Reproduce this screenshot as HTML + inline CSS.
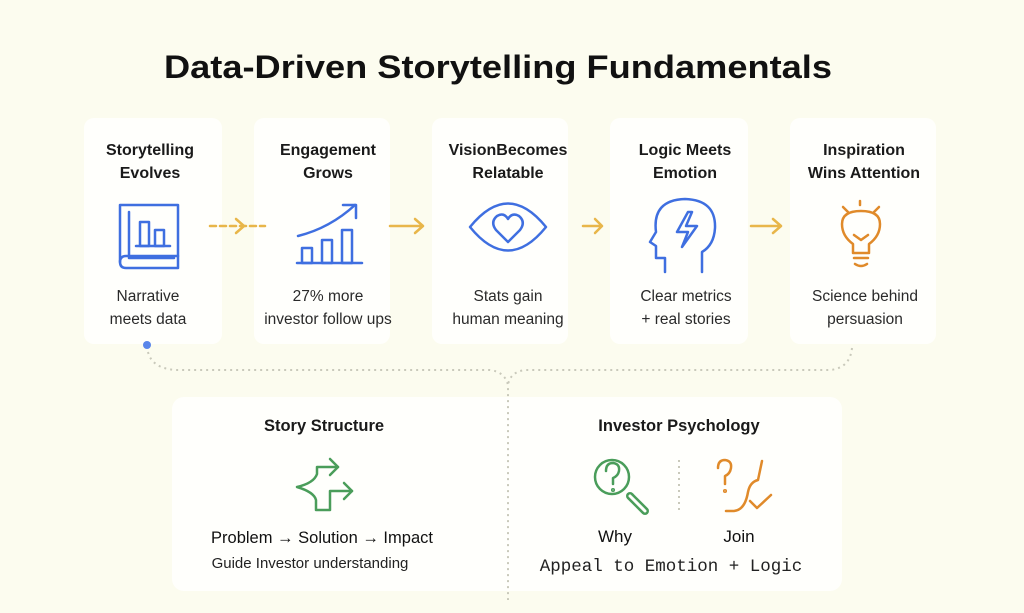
<!DOCTYPE html>
<html><head><meta charset="utf-8"><style>
html,body{margin:0;padding:0;background:#fcfcef;}
svg{display:block;font-family:"Liberation Sans",sans-serif;}
</style></head><body>
<svg width="1024" height="613" viewBox="0 0 1024 613" xmlns="http://www.w3.org/2000/svg">
<rect width="1024" height="613" fill="#fcfcef"/>
<text x="498" y="78" text-anchor="middle" font-size="32" font-weight="bold" fill="#111" textLength="668" lengthAdjust="spacingAndGlyphs">Data-Driven Storytelling Fundamentals</text>

<g fill="#fffffc">
<rect x="84" y="118" width="138" height="226" rx="10"/>
<rect x="254" y="118" width="136" height="226" rx="10"/>
<rect x="432" y="118" width="136" height="226" rx="10"/>
<rect x="610" y="118" width="138" height="226" rx="10"/>
<rect x="790" y="118" width="146" height="226" rx="10"/>
<rect x="172" y="397" width="670" height="194" rx="12"/>
</g>

<g font-size="16" font-weight="bold" fill="#1a1a1a" text-anchor="middle">
<text x="150" y="155">Storytelling</text><text x="150" y="178">Evolves</text>
<text x="328" y="155">Engagement</text><text x="328" y="178">Grows</text>
<text x="508" y="155">VisionBecomes</text><text x="508" y="178">Relatable</text>
<text x="685" y="155">Logic Meets</text><text x="685" y="178">Emotion</text>
<text x="864" y="155">Inspiration</text><text x="864" y="178">Wins Attention</text>
</g>
<g font-size="15.5" fill="#2a2a2a" text-anchor="middle">
<text x="148" y="301">Narrative</text><text x="148" y="324">meets data</text>
<text x="328" y="301">27% more</text><text x="328" y="324">investor follow ups</text>
<text x="508" y="301">Stats gain</text><text x="508" y="324">human meaning</text>
<text x="686" y="301">Clear metrics</text><text x="686" y="324">+ real stories</text>
<text x="865" y="301">Science behind</text><text x="865" y="324">persuasion</text>
</g>

<g fill="none" stroke="#3f6fe0" stroke-width="2.5" stroke-linejoin="round" stroke-linecap="round">
<path d="M120 205 V262 Q120 268 126 268 H178 V205 Z"/>
<path d="M129 212 V258 H174"/>
<path d="M120 262 Q120 256 126 256 H178"/>
<rect x="140" y="222" width="9" height="24"/><rect x="155" y="230" width="9" height="16"/>
<path d="M136 246 H170"/>
<path d="M297 263 H362"/>
<rect x="302" y="248" width="10" height="15"/><rect x="322" y="240" width="10" height="23"/><rect x="342" y="230" width="10" height="33"/>
<path d="M298 236 Q330 228 355 205"/><path d="M343 205 H356 V218"/>
<path d="M470 227 Q508 180 546 227 Q508 274 470 227 Z"/>
<path d="M508 242 L496 230 Q490 222 497 216 Q504 212 508 219 Q512 212 519 216 Q526 222 520 230 Z"/>
<path d="M665 272 V258 H656 V246 L650 242 L656 232 Q652 200 685 199 Q716 200 715 228 Q714 245 702 252 V272"/>
<path d="M688 212 L677 232 H688 L682 247 L697 226 H686 L692 212 Z"/>
</g>
<g fill="none" stroke="#e08a2a" stroke-width="2.5" stroke-linecap="round" stroke-linejoin="round">
<path d="M860 201 V205 M843 207 L848 212 M879 207 L874 212"/>
<path d="M853 253 V244 Q842 236 842 224 Q842 211 861 211 Q880 211 880 224 Q880 236 869 244 V253 Z"/>
<path d="M854 258 H868 M855 264 Q861 268 867 264"/>
<path d="M854 235 L861 240 L868 235"/>
</g>
<g fill="none" stroke="#e8b64a" stroke-width="2.5" stroke-linecap="round" stroke-linejoin="round">
<path d="M210 226 H265" stroke-dasharray="6 4"/><path d="M236 219 L244 226 L236 233"/>
<path d="M390 226 H423 M415 219 L423 226 L415 233"/>
<path d="M583 226 H602 M595 219 L602 226 L595 233"/>
<path d="M751 226 H781 M773 219 L781 226 L773 233"/>
</g>
<circle cx="147" cy="345" r="4" fill="#5a86ea"/>
<g fill="none" stroke="#c9c9bb" stroke-width="2" stroke-dasharray="2 4">
<path d="M148 352 Q152 368 175 370 H490 Q505 372 508 385 V600"/>
<path d="M852 348 Q850 368 830 370 H525 Q510 372 508 385"/>
<path d="M679 460 V510"/>
</g>

<g font-size="16.5" font-weight="bold" fill="#1a1a1a" text-anchor="middle">
<text x="324" y="431">Story Structure</text>
<text x="679" y="431">Investor Psychology</text>
</g>
<text x="615" y="542" text-anchor="middle" font-size="17" fill="#111">Why</text>
<text x="739" y="542" text-anchor="middle" font-size="17" fill="#111">Join</text>
<text x="322" y="543" text-anchor="middle" font-size="16.5" fill="#111">Problem → Solution → Impact</text>
<text x="310" y="568" text-anchor="middle" font-size="15" fill="#222">Guide Investor understanding</text>
<text x="671" y="571" text-anchor="middle" font-family="Liberation Mono,monospace" font-size="17.5" fill="#222">Appeal to Emotion + Logic</text>

<g fill="none" stroke="#4a9d5a" stroke-width="2.5" stroke-linecap="round" stroke-linejoin="round">
<path d="M338 467 H317 V474 Q314 483 297 487 Q314 492 316 500 V510 H330 V491 H352"/>
<path d="M330 459 L338 467 L330 475"/>
<path d="M344 483 L352 491 L344 499"/>
</g>
<g fill="none" stroke="#4a9d5a" stroke-width="2.5" stroke-linecap="round" stroke-linejoin="round">
<circle cx="612" cy="477" r="17"/>
<path d="M630 496 L645 511" stroke-width="8"/>
<path d="M630 496 L645 511" stroke="#fffffc" stroke-width="3"/>
<path d="M606 471 Q606 463 613 463 Q620 464 619 471 Q618 476 613 478 V484"/>
<circle cx="613" cy="490" r="0.8"/>
</g>
<g fill="none" stroke="#e08a2a" stroke-width="2.5" stroke-linecap="round" stroke-linejoin="round">
<path d="M718 468 Q718 460 725 460 Q732 461 731 468 Q730 474 725 476 V484"/><circle cx="725" cy="491" r="0.8"/>
<path d="M762 461 L758 480 Q750 482 748 492 Q745 510 734 511 H726"/>
<path d="M750 501 L757 508 L771 495"/>
</g>
</svg>
</body></html>
